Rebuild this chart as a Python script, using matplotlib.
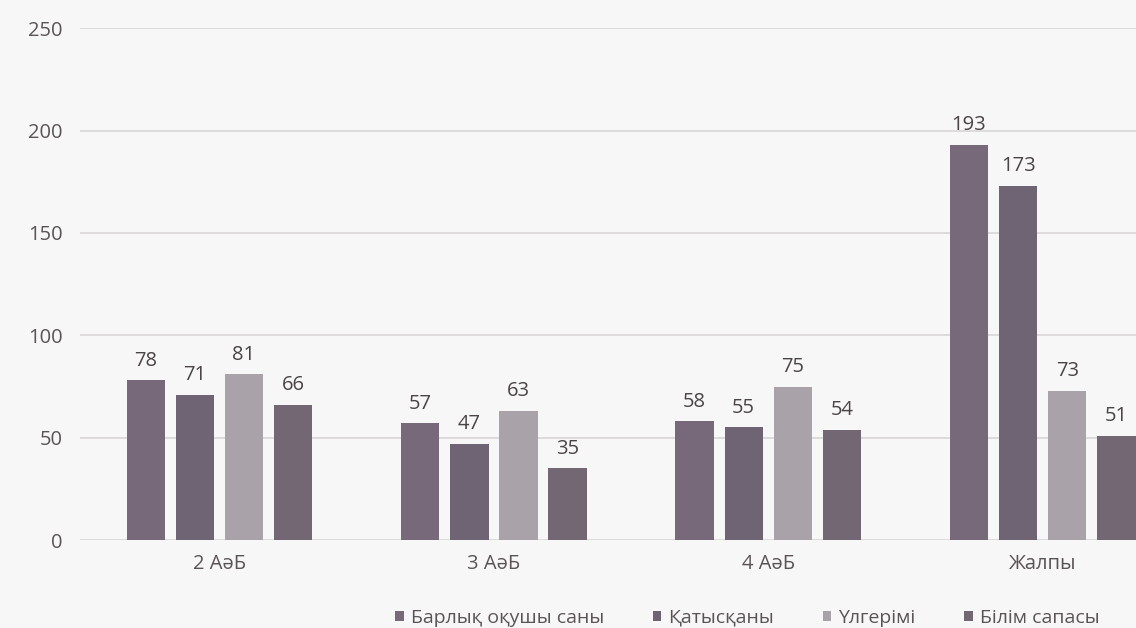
import matplotlib.pyplot as plt
import numpy as np

plt.rcParams['font.family'] = ['Open Sans', 'DejaVu Sans']

categories = ["2 АәБ", "3 АәБ", "4 АәБ", "Жалпы"]
series_names = ["Барлық оқушы саны", "Қатысқаны", "Үлгерімі", "Білім сапасы"]
total = [78, 57, 58, 193]
took_part = [71, 47, 55, 173]
passed = [81, 63, 75, 73]
quality = [66, 35, 54, 51]
series = [total, took_part, passed, quality]
colors = ["#77697a", "#6f6473", "#aaa2a9", "#726773"]

fig = plt.figure(figsize=(11.36, 6.28), dpi=100, facecolor="#f8f7f7")
ax = fig.add_axes([0.07, 0.14, 0.93, 0.815], facecolor="#f8f7f7")

x = np.arange(len(categories))
pitch = 0.179
width = 0.14
for i, (vals, name, col) in enumerate(zip(series, series_names, colors)):
    pos = x + (i - 1.5) * pitch
    bars = ax.bar(pos, vals, width, color=col, label=name, zorder=3)
    for b, v in zip(bars, vals):
        ax.annotate(str(v), (b.get_x() + b.get_width() / 2, v),
                    xytext=(0, 7), textcoords="offset points",
                    ha="center", va="bottom", fontsize=14.5, color="#4a4448")

ax.set_ylim(0, 250)
ax.set_xlim(-0.51, 3.34)
ax.set_yticks(range(0, 251, 50))
ax.set_xticks(x)
ax.set_xticklabels(categories)
ax.grid(axis="y", color="#d9d7d9", linewidth=1.3, zorder=0)
for s in ax.spines.values():
    s.set_visible(False)
ax.tick_params(length=0, labelsize=14.5, labelcolor="#5a5458")
ax.tick_params(axis="y", pad=12)
ax.tick_params(axis="x", pad=10)

ax.legend(loc="center", bbox_to_anchor=(0.632, -0.152), ncol=4, frameon=False,
          fontsize=14, labelcolor="#5a5458", handlelength=0.45, handleheight=0.45,
          columnspacing=2.5, handletextpad=0.35, borderpad=0)

fig.savefig("out.png", dpi=100, facecolor=fig.get_facecolor())
